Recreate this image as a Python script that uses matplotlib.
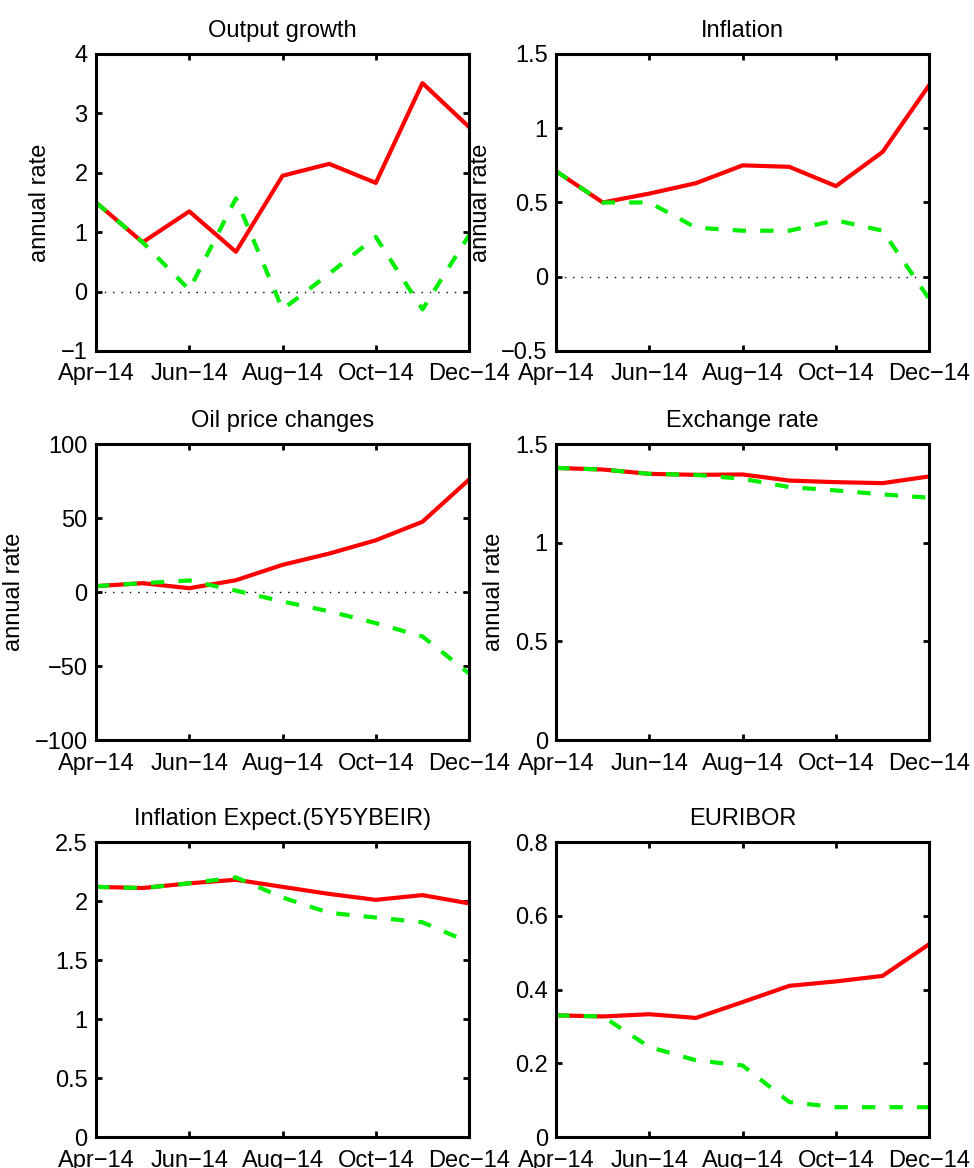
import numpy as np
from matplotlib import pyplot as plt
from matplotlib.ticker import FuncFormatter

plt.rcParams['font.family'] = ['Liberation Sans', 'DejaVu Sans']
plt.rcParams['font.size'] = 17

# Monthly observations Apr-14 .. Dec-14
months = ['Apr\u221214', 'May\u221214', 'Jun\u221214', 'Jul\u221214', 'Aug\u221214',
          'Sep\u221214', 'Oct\u221214', 'Nov\u221214', 'Dec\u221214']

# Red = actual path, green = counterfactual path
output_actual = [1.5, 0.83, 1.35, 0.67, 1.95, 2.15, 1.83, 3.51, 2.77]
output_cf = [1.5, 0.83, 0.03, 1.57, -0.3, 0.3, 0.92, -0.3, 0.95]

infl_actual = [0.71, 0.50, 0.56, 0.63, 0.75, 0.74, 0.61, 0.84, 1.29]
infl_cf = [0.71, 0.50, 0.50, 0.33, 0.31, 0.31, 0.38, 0.31, -0.15]

oil_actual = [4, 6, 2.6, 8, 18.4, 26, 35, 47.5, 76]
oil_cf = [4, 6, 7.8, 1, -6.4, -13, -21, -30, -55]

fx_actual = [1.379, 1.371, 1.349, 1.344, 1.346, 1.315, 1.307, 1.302, 1.336]
fx_cf = [1.379, 1.371, 1.349, 1.344, 1.324, 1.282, 1.265, 1.245, 1.228]

bei_actual = [2.12, 2.11, 2.15, 2.18, 2.12, 2.06, 2.01, 2.05, 1.98]
bei_cf = [2.12, 2.11, 2.15, 2.20, 2.03, 1.90, 1.86, 1.82, 1.65]

euribor_actual = [0.33, 0.327, 0.333, 0.323, 0.366, 0.41, 0.422, 0.437, 0.523]
euribor_cf = [0.33, 0.327, 0.244, 0.208, 0.194, 0.095, 0.081, 0.081, 0.081]

titles = ['Output growth', 'Inflation', 'Oil price changes', 'Exchange rate',
          'Inflation Expect.(5Y5YBEIR)', 'EURIBOR']
actual = [output_actual, infl_actual, oil_actual, fx_actual, bei_actual, euribor_actual]
counterfactual = [output_cf, infl_cf, oil_cf, fx_cf, bei_cf, euribor_cf]
yticks = [[-1, 0, 1, 2, 3, 4],
          [-0.5, 0, 0.5, 1, 1.5],
          [-100, -50, 0, 50, 100],
          [0, 0.5, 1, 1.5],
          [0, 0.5, 1, 1.5, 2, 2.5],
          [0, 0.2, 0.4, 0.6, 0.8]]
has_ylabel = [True, True, True, True, False, False]

fig = plt.figure(figsize=(9.74, 11.68), dpi=100)

# axes boxes [left, bottom, width, height]
col_left = [0.0986, 0.571]
row_bottom = [0.6995, 0.3664, 0.0265]
row_height = [0.2543, 0.2534, 0.2526]
width = 0.383

fmt = FuncFormatter(lambda v, p: f'{v:g}'.replace('-', '\u2212'))
x = np.arange(len(months))

for i in range(6):
    r, c = divmod(i, 2)
    ax = fig.add_axes([col_left[c], row_bottom[r], width, row_height[r]])
    ax.axhline(0, color='black', linestyle=(0, (1, 5)), linewidth=1.0)
    ax.plot(x, actual[i], color='#ff0000', linewidth=3.0)
    ax.plot(x, counterfactual[i], color='#00ee00', linewidth=3.0, dashes=[3.2, 3.4])

    ax.set_xlim(0, 8)
    ax.set_ylim(yticks[i][0], yticks[i][-1])
    ax.set_xticks(x[::2])
    ax.set_xticklabels(months[::2])
    ax.set_yticks(yticks[i])
    ax.yaxis.set_major_formatter(fmt)
    ax.tick_params(direction='in', length=4, width=2, top=True, right=True)
    ax.tick_params(axis='x', pad=9)
    ax.tick_params(axis='y', pad=6)
    for s in ax.spines.values():
        s.set_linewidth(2.2)

    ax.set_title(titles[i], fontsize=17, pad=12)
    if has_ylabel[i]:
        ax.set_ylabel('annual rate', labelpad=7)

plt.savefig('out.png', dpi=100)
